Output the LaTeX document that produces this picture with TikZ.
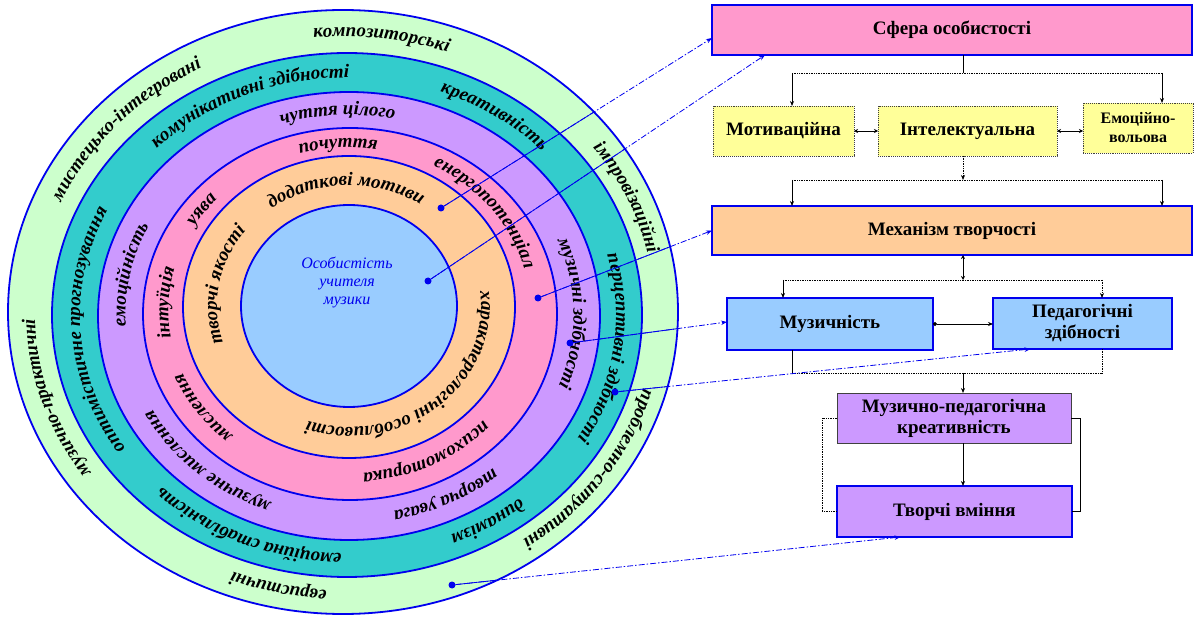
\documentclass[tikz,border=0pt]{standalone}
\usepackage{fontspec}
\setmainfont{Liberation Serif}
\usetikzlibrary{decorations.text,calc,arrows.meta}
\definecolor{cgreen}{HTML}{CCFFCC}
\definecolor{cteal}{HTML}{33CCCC}
\definecolor{cpurple}{HTML}{CC99FF}
\definecolor{cpink}{HTML}{FF99CC}
\definecolor{corange}{HTML}{FFCC99}
\definecolor{cblue}{HTML}{99CCFF}
\definecolor{cyellow}{HTML}{FFFF99}
\definecolor{cline}{HTML}{0000EE}
\newcommand\ringfont{\fontsize{19}{19}\selectfont\bfseries\itshape}
% #1 cx, #2 cy, #3 rx, #4 ry, #5 mid angle, #6 text
\newcommand\ringtext[6]{%
  \path[decorate,decoration={text along path,text={|\ringfont|#6},text align=center}]
    ($(#1,#2)+({#5+75}:#3pt and #4pt)$) arc[start angle={#5+75}, end angle={#5-75}, x radius=#3pt, y radius=#4pt];}
\tikzset{
  ring/.style={draw=cline, line width=1.8pt},
  bbox/.style={draw=cline, line width=2pt, inner sep=0pt, outer sep=0pt, align=center,
    font=\fontsize{19}{21}\selectfont\bfseries},
  gbox/.style={draw=black!75, line width=0.9pt, densely dotted, inner sep=0pt, outer sep=0pt, align=center,
    font=\fontsize{19}{21}\selectfont\bfseries},
  conn/.style={black, line width=0.7pt},
  arr/.style={-{Stealth[length=5pt,width=4pt]}},
  dblarr/.style={{Stealth[length=4pt,width=4pt]}-{Stealth[length=4pt,width=4pt]}},
  dot/.style={circle, fill=cline, inner sep=0pt, minimum size=7pt},
  blink/.style={cline, line width=0.8pt, dash pattern=on 6pt off 2pt on 1.5pt off 2pt, -{Stealth[length=6pt,width=4.5pt]}},
  solidlink/.style={cline, line width=0.8pt},
}
\begin{document}
\begin{tikzpicture}[x=1pt,y=-1pt]
\useasboundingbox (0,0) rectangle (1203,620);
% rings
\filldraw[ring, fill=cgreen]  (343,312) ellipse [x radius=335pt, y radius=302pt];
\filldraw[ring, fill=cteal]   (347,315) ellipse [x radius=295pt, y radius=262pt];
\filldraw[ring, fill=cpurple] (349,316) ellipse [x radius=251pt, y radius=224pt];
\filldraw[ring, fill=cpink]   (350,314) ellipse [x radius=207pt, y radius=186pt];
\filldraw[ring, fill=corange] (349,307) ellipse [x radius=166pt, y radius=151pt];
\filldraw[ring, fill=cblue]   (349,306) ellipse [x radius=108pt, y radius=101pt];
% band 1
\ringtext{345}{313.5}{310}{277}{82.5}{композиторські}
\ringtext{345}{313.5}{310}{277}{139.5}{мистецько-інтегровані}
\ringtext{345}{313.5}{310}{277}{196.5}{музично-практичні}
\ringtext{345}{313.5}{310}{277}{256.4}{евристичні}
\ringtext{345}{313.5}{310}{277}{327}{проблемно-ситуативні}
\ringtext{345}{313.5}{310}{277}{22.6}{імпровізаційні}
% band 2
\ringtext{348}{315.5}{268}{238}{114.6}{комунікативні здібності}
\ringtext{348}{315.5}{268}{238}{54}{креативність}
\ringtext{348}{315.5}{268}{238}{-7.5}{перцептивні здібності}
\ringtext{348}{315.5}{268}{238}{303.9}{динамізм}
\ringtext{348}{315.5}{268}{238}{245.3}{емоційна стабільність}
\ringtext{348}{315.5}{268}{238}{183.5}{оптимістичне прогнозування}
% band 3
\ringtext{349.5}{315}{224}{200}{93.4}{чуття цілого}
\ringtext{349.5}{315}{224}{200}{169.5}{емоційність}
\ringtext{349.5}{315}{224}{200}{0.4}{музичні здібності}
\ringtext{349.5}{315}{224}{200}{297.8}{творча увага}
\ringtext{349.5}{315}{224}{200}{226.3}{музичне мислення}
% band 4
\ringtext{349.5}{310.5}{181}{163}{93.9}{почуття}
\ringtext{349.5}{310.5}{181}{163}{145.6}{уява}
\ringtext{349.5}{310.5}{181}{163}{36.3}{енергопотенціал}
\ringtext{349.5}{310.5}{181}{163}{297.9}{психомоторика}
\ringtext{349.5}{310.5}{181}{163}{213.8}{мислення}
\ringtext{349.5}{310.5}{181}{163}{177.5}{інтуїція}
% band 5
\ringtext{349}{306.5}{132}{121}{91.5}{додаткові мотиви}
\ringtext{349}{306.5}{132}{121}{170}{творчі якості}
\ringtext{349}{306.5}{132}{121}{-50.2}{характерологічні особливості}
% centre
\node[font=\fontsize{16}{18}\selectfont\itshape, text=cline, align=center] (ctr) at (347,283) {Особистість\\учителя\\музики};
% boxes
\node[bbox, fill=cpink, minimum width=480pt, minimum height=50pt] (sfera) at (952,30) {Сфера особистості};
\node[gbox, fill=cyellow, minimum width=141pt, minimum height=50pt] (motiv) at (783.5,131) {Мотиваційна};
\node[gbox, fill=cyellow, minimum width=179pt, minimum height=50pt] (intel) at (967.5,131) {Інтелектуальна};
\node[gbox, fill=cyellow, minimum width=110pt, minimum height=50pt, font=\fontsize{16}{19}\selectfont\bfseries] (emoc) at (1138,128) {Емоційно-\\вольова};
\node[bbox, fill=corange, minimum width=480pt, minimum height=49pt] (mech) at (952,230.5) {Механізм творчості};
\node[bbox, fill=cblue, minimum width=206pt, minimum height=52pt] (muz) at (830,324) {Музичність};
\node[bbox, fill=cblue, minimum width=179pt, minimum height=51pt] (ped) at (1082.5,323.5) {Педагогічні\\здібності};
\node[gbox, solid, fill=cpurple, minimum width=234pt, minimum height=50pt] (mpk) at (954,418) {Музично-педагогічна\\креативність};
\node[bbox, fill=cpurple, minimum width=235pt, minimum height=51pt] (tvm) at (954.5,511.5) {Творчі вміння};
% connectors right
\coordinate (j1) at (963,73);
\coordinate (a1) at (792,73);
\coordinate (a2) at (1162,73);
\draw[conn] (j1 |- sfera.south) -- (j1);
\draw[conn, densely dotted] (a1) -- (a2);
\draw[conn, arr] (a1) -- (a1 |- motiv.north);
\draw[conn, arr] (a2) -- (a2 |- emoc.north);
\draw[conn, dblarr] (motiv.east) -- (intel.west);
\draw[conn, dblarr] (intel.east) -- (intel.east -| emoc.west);
\coordinate (j2) at (963,180);
\coordinate (b1) at (792,180);
\coordinate (b2) at (1162,180);
\draw[conn, densely dotted, arr] (j2 |- intel.south) -- (j2);
\draw[conn, densely dotted] (b1) -- (b2);
\draw[conn, arr] (b1) -- (b1 |- mech.north);
\draw[conn, arr] (b2) -- (b2 |- mech.north);
\coordinate (j3) at (963,280);
\coordinate (c1) at (783,280);
\coordinate (c2) at (1102,280);
\draw[conn, dblarr] (j3 |- mech.south) -- (j3);
\draw[conn, densely dotted] (c1) -- (c2);
\draw[conn, arr] (c1) -- (c1 |- muz.north);
\draw[conn, densely dotted, arr] (c2) -- (c2 |- ped.north);
\draw[conn, {Circle[length=4pt]}-{Stealth[length=5pt,width=4pt]}] (muz.east) -- (muz.east -| ped.west);
\coordinate (j4) at (963,373);
\coordinate (e1) at (792,373);
\coordinate (e2) at (1102,373);
\draw[conn] (e1 |- muz.south) -- (e1);
\draw[conn, densely dotted] (e2 |- ped.south) -- (e2);
\draw[conn, densely dotted] (e1) -- (e2);
\draw[conn, arr] (j4) -- (j4 |- mpk.north);
\draw[conn, arr] (j4 |- mpk.south) -- (j4 |- tvm.north);
\draw[conn, densely dotted] (mpk.west) -- ++(-15,0) |- (tvm.west);
\draw[conn] (mpk.east) -- ++(9,0) |- (tvm.east);
% dots and links
\node[dot] (d1) at (441,208) {};
\node[dot] (d2) at (428,281) {};
\node[dot] (d3) at (538,298) {};
\node[dot] (d4) at (570,343) {};
\node[dot] (d5) at (615,392) {};
\node[dot] (d6) at (452,585) {};
\coordinate (t1) at ($(sfera.west)+(0,8)$);
\coordinate (t2) at ($(sfera.south)+(-187,0)$);
\coordinate (t3) at (mech.west);
\coordinate (t4) at ($(muz.west)+(0,-2)$);
\coordinate (t5) at ($(ped.south)+(-52,0)$);
\coordinate (t6) at ($(tvm.south)+(-54,0)$);
\draw[blink] (d1) -- (t1);
\draw[blink] (d2) -- (t2);
\draw[blink] (d3) -- (t3);
\draw[blink] (d4) -- (t4);
\draw[blink] (d5) -- (t5);
\draw[blink] (d6) -- (t6);
\begin{scope}
\clip (343,312) ellipse [x radius=335pt, y radius=302pt];
\draw[solidlink] (d1) -- (t1);
\draw[solidlink] (d2) -- (t2);
\draw[solidlink] (d3) -- (t3);
\draw[solidlink] (d4) -- (t4);
\draw[solidlink] (d5) -- (t5);
\draw[solidlink] (d6) -- (t6);
\end{scope}
\end{tikzpicture}
\end{document}
